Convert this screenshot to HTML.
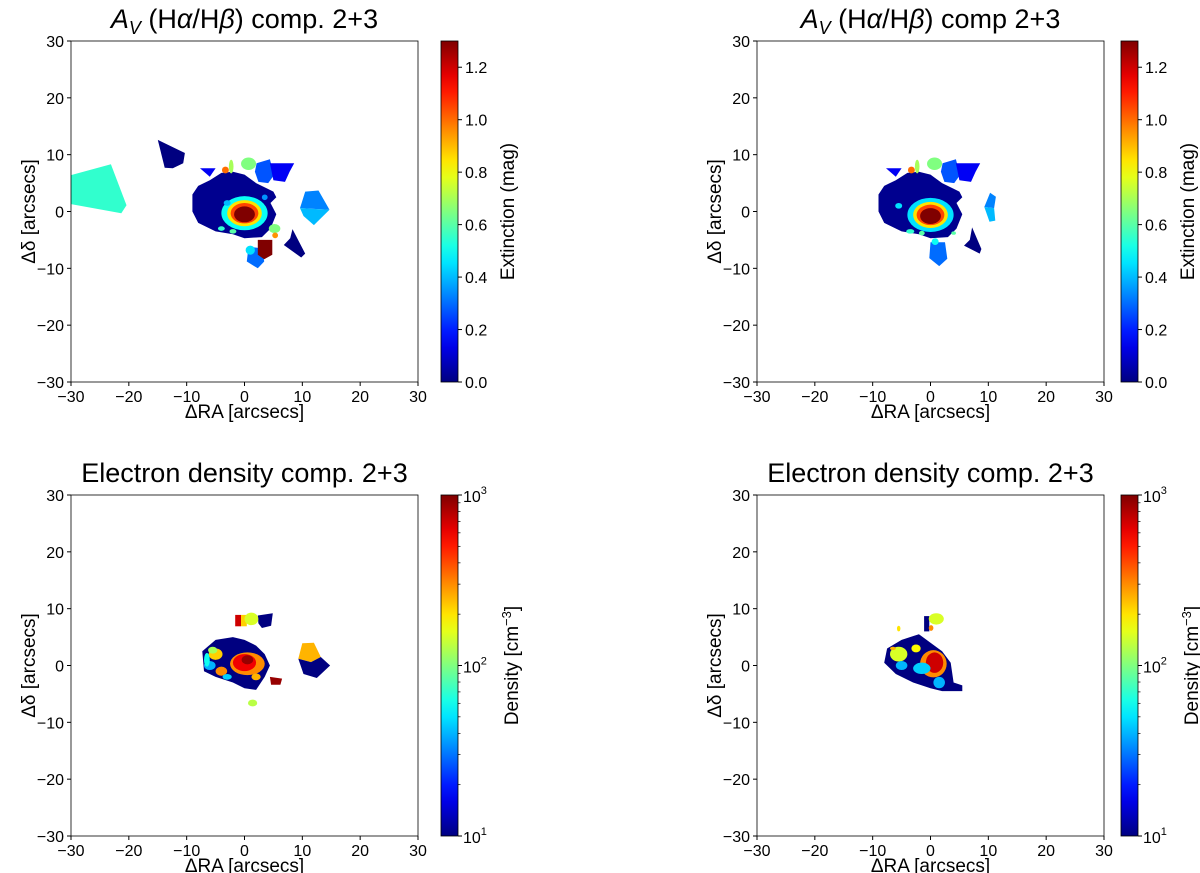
<!DOCTYPE html>
<html><head><meta charset="utf-8"><style>
html,body{margin:0;padding:0;background:#fff;}
svg{display:block;font-family:"Liberation Sans","DejaVu Sans",sans-serif;}
</style></head><body>
<svg id="fig" width="1200" height="873" viewBox="0 0 1200 873" xmlns="http://www.w3.org/2000/svg"></svg>
<script>
// ---------- data (data coordinates in arcsec; values in mag or cm^-3) ----------
const xTicks = [-30,-20,-10,0,10,20,30];
const yTicks = [-30,-20,-10,0,10,20,30];
const extTicks = [0.0,0.2,0.4,0.6,0.8,1.0,1.2];
const extRange = [0,1.3];
const denDecades = [1,2,3];

// Panel 1 polygons
const p1PolyPts = [
 [[-30,6.4],[-23.1,8.3],[-20.4,1.1],[-21.3,-0.3],[-30,1.3]],
 [[-15,12.6],[-10.3,10.3],[-10.6,8.5],[-12.4,7.6],[-13.8,7.7]],
 [[-9,3],[-8,4.5],[-6,5.5],[-4,6.8],[-2,7],[0,6.5],[2,5],[4,4],[5,3.5],[5.5,2.5],[4.5,1.5],[5.5,-0.5],[4.5,-3],[3,-4.5],[0,-4.7],[-2,-4],[-5,-3.5],[-8,-2],[-9,0]],
 [[2.1,8.5],[4.4,9.2],[5.1,6.4],[4.1,5],[2.4,5.2],[1.8,7]],
 [[4.4,8.5],[8.6,8.5],[7.8,7],[7,5.2],[5,5.5]],
 [[-7.7,7.6],[-5,7.6],[-6,6.1]],
 [[10.5,3.5],[12.8,3.7],[14.7,0.3],[9.6,0.6]],
 [[9.6,0.6],[14.7,0.3],[12,-2.4],[10.2,-0.8]],
 [[8.3,-3.1],[10.5,-7.4],[9.8,-8.1],[6.8,-5.9],[7.9,-4.7]],
 [[0.7,-6.2],[3.1,-6.5],[3.4,-8.8],[2.3,-10],[0.4,-8.8]],
 [[2.3,-5],[4.8,-5],[4.8,-7.6],[3.4,-8.4],[2.3,-7.6]]
];
const p1PolyVals = [0.55,0.0,0.02,0.27,0.15,0.15,0.33,0.4,0.0,0.3,1.3];
// Panel 1 ellipses [x,y,rx,ry]
const p1EllPos = [[0.7,8.4,1.3,1.1],[-2.3,7.9,0.4,1.2],[-3.3,7.3,0.6,0.6],[0,-0.3,4,3],[0,-0.3,3,2.3],[0,-0.3,2.4,1.8],[0,-0.5,1.8,1.4],[1,-6.8,0.8,0.8],[5.2,-3,1,0.8],[5.3,-4.2,0.5,0.5],[-4,-3,0.6,0.4],[-2,-3.5,0.6,0.4],[-3,1.5,0.6,0.5],[3.5,2.5,0.5,0.5]];
const p1EllVals = [0.65,0.7,1.0,0.5,0.85,1.05,1.3,0.45,0.65,0.95,0.55,0.6,0.4,0.35];

// Panel 2 polygons
const p2PolyPts = [
 [[-9,3],[-8,4.5],[-6,5.5],[-4,6.8],[-2,7],[0,6.5],[2,5],[4,4],[5,3.5],[5.5,2.5],[4.5,1.5],[5.5,-0.5],[4.5,-3],[3,-4.5],[0,-4.7],[-2,-4],[-5,-3.5],[-8,-2],[-9,0]],
 [[2.1,8.5],[4.4,9.2],[5.1,6.4],[4.1,5],[2.4,5.2],[1.8,7]],
 [[4.4,8.5],[8.6,8.5],[7.8,7],[7,5.2],[5,5.5]],
 [[-7.7,7.6],[-5,7.6],[-6,6.1]],
 [[10.3,3.3],[11.3,2.6],[11,0.6],[9.3,0.8]],
 [[9.3,0.8],[11,0.6],[11.2,-1.6],[10.2,-1.8]],
 [[7.2,-2.8],[8.8,-6.6],[8.5,-7.4],[5.8,-6],[6.8,-5]],
 [[0,-5.4],[2.5,-5.4],[2.9,-8.3],[1.5,-9.6],[-0.2,-8.2]]
];
const p2PolyVals = [0.02,0.27,0.15,0.15,0.33,0.4,0.0,0.3];
const p2EllPos = [[0.7,8.4,1.3,1.1],[-2.3,7.9,0.4,1.2],[-3.3,7.3,0.6,0.6],[0,-0.6,4,3],[0,-0.6,3,2.3],[0,-0.6,2.4,1.8],[0,-0.8,1.8,1.4],[0.8,-5.3,0.6,0.6],[-3.5,-3.5,0.7,0.4],[-1.5,-3.8,0.5,0.4],[4,-3.8,0.4,0.3],[-5.5,1,0.6,0.5]];
const p2EllVals = [0.65,0.7,1.0,0.45,0.85,1.05,1.3,0.5,0.55,0.6,0.6,0.45];

// Panel 3 (density)
const p3PolyPts = [
 [[-7.3,2.5],[-5,4.5],[-2,5],[0,4.5],[2,3.5],[3.5,2],[4.4,0],[3.5,-2],[2,-4.3],[0,-4],[-2,-3],[-5,-2],[-7,-1]],
 [[2.3,8.8],[4.9,9.2],[4.6,7],[3,6.6],[2.4,7.4]],
 [[-1.6,8.9],[-0.6,8.9],[-0.6,6.9],[-1.6,6.9]],
 [[-0.6,8.9],[0.4,8.9],[0.4,6.9],[-0.6,6.9]],
 [[10,3.9],[12,4],[13.2,1.5],[11.5,0.6],[9.3,1.2]],
 [[9.3,1.2],[11.5,0.6],[13.2,1.5],[14.8,0],[12.5,-2.2],[10.2,-1.5]],
 [[4.4,-2],[6.5,-2.3],[6.2,-3.4],[4.6,-3.4]]
];
const p3PolyVals = [10,10,700,220,250,10,900];
const p3EllPos = [[1.2,8.2,1.2,1.1],[-5,2,1.2,1],[-6,0,1,0.8],[-4,-1,1,0.8],[-5.5,2.7,0.8,0.6],[0.5,0.3,3,2],[0,0.5,2,1.5],[0.5,1,1,0.8],[1.4,-6.6,0.8,0.6],[-6.5,1,0.5,1.2],[-3,-2,0.8,0.5],[2,-2,0.8,0.6]];
const p3EllVals = [150,220,40,300,120,300,600,900,130,60,45,250];

// Panel 4 (density)
const p4PolyPts = [
 [[-7.5,3],[-5,4.5],[-2,5.5],[0,4],[2,2.5],[3.5,0.5],[4,-3],[5.5,-3.5],[5.5,-4.5],[2,-4.5],[0,-4],[-3,-3],[-6,-1.5],[-8,0.5]],
 [[-1.1,8.7],[-0.2,8.7],[-0.2,6],[-1.1,6]]
];
const p4PolyVals = [10,10];
const p4EllPos = [[1,8.2,1.3,1],[0.1,6.6,0.4,0.5],[-5.5,2,1.5,1.3],[-5,0,1,0.8],[0.5,0.3,2.3,2.4],[0.7,0.5,1.5,1.8],[-1.5,-0.5,1.5,1],[1.5,-3,1,1],[-2.5,3,0.8,0.7],[-5.5,6.5,0.3,0.5],[-6.5,3,0.5,0.3]];
const p4EllVals = [150,300,150,40,300,700,45,40,180,200,250];

// ---------- rendering ----------
const NS = "http://www.w3.org/2000/svg";
const svg = document.getElementById('fig');
function mk(tag, attrs, parent){const e=document.createElementNS(NS,tag);for(const k in attrs)e.setAttribute(k,attrs[k]);(parent||svg).appendChild(e);return e;}
function cl(v){return Math.max(0,Math.min(1,v));}
function jet(t){t=cl(t);const r=cl(1.5-Math.abs(4*t-3)),g=cl(1.5-Math.abs(4*t-2)),b=cl(1.5-Math.abs(4*t-1));return `rgb(${Math.round(r*255)},${Math.round(g*255)},${Math.round(b*255)})`;}
function extNorm(v){return (v-extRange[0])/(extRange[1]-extRange[0]);}
function denNorm(v){return (Math.log10(v)-1)/2;}

const panels = [
 {id:'p1',left:71,top:41,w:347,h:341,cbx:441,kind:'ext',pts:p1PolyPts,pv:p1PolyVals,ep:p1EllPos,ev:p1EllVals},
 {id:'p2',left:757,top:41,w:347,h:341,cbx:1121,kind:'ext',pts:p2PolyPts,pv:p2PolyVals,ep:p2EllPos,ev:p2EllVals},
 {id:'p3',left:71,top:495,w:347,h:341,cbx:441,kind:'den',pts:p3PolyPts,pv:p3PolyVals,ep:p3EllPos,ev:p3EllVals},
 {id:'p4',left:757,top:495,w:347,h:341,cbx:1121,kind:'den',pts:p4PolyPts,pv:p4PolyVals,ep:p4EllPos,ev:p4EllVals}
];

panels.forEach((P,pi)=>{
  const sx=x=>P.left+(x+30)/60*P.w;
  const sy=y=>P.top+(30-y)/60*P.h;
  const norm = P.kind==='ext'?extNorm:denNorm;
  const g = mk('g',{});
  
  
  const cx = P.left+P.w/2;
  const tt = mk('text',{x:cx,y:P.top-13,'text-anchor':'middle','font-size':27,fill:'#000'},g);
  
  
  if(P.kind==='ext'){
    tt.innerHTML = '<tspan font-style="italic">A</tspan><tspan font-style="italic" font-size="18" dy="6">V</tspan><tspan dy="-6"> (H</tspan><tspan font-style="italic">α</tspan><tspan>/H</tspan><tspan font-style="italic">β</tspan><tspan>) comp'+(pi===0?'.':'')+' 2+3</tspan>';
  } else {
    tt.textContent = 'Electron density comp. 2+3';
  }
  const cid='clip'+pi;
  const cp = mk('clipPath',{id:cid},g); mk('rect',{x:P.left,y:P.top,width:P.w,height:P.h},cp);
  const data = mk('g',{'clip-path':`url(#${cid})`},g);
  
  
  P.pts.forEach((poly,i)=>{
    const p = mk('polygon',{points:poly.map(q=>sx(q[0]).toFixed(1)+','+sy(q[1]).toFixed(1)).join(' '),fill:jet(norm(P.pv[i]))},data);
    
    
  });
  P.ep.forEach((e,i)=>{
    const el = mk('ellipse',{cx:sx(e[0]),cy:sy(e[1]),rx:e[2]*P.w/60,ry:e[3]*P.h/60,fill:jet(norm(P.ev[i]))},data);
    
    
  });
  const fr = mk('rect',{x:P.left,y:P.top,width:P.w,height:P.h,fill:'none',stroke:'#000','stroke-width':0.8},g);
  
  
  xTicks.forEach(t=>{
    mk('line',{x1:sx(t),x2:sx(t),y1:P.top+P.h,y2:P.top+P.h+4,stroke:'#000'},g);
    const tx = mk('text',{x:sx(t),y:P.top+P.h+20,'text-anchor':'middle','font-size':16},g);
    tx.textContent = t<0?'−'+(-t):String(t);
    
    
  });
  yTicks.forEach(t=>{
    mk('line',{x1:P.left-4,x2:P.left,y1:sy(t),y2:sy(t),stroke:'#000'},g);
    const ty = mk('text',{x:P.left-7,y:sy(t)+6,'text-anchor':'end','font-size':16},g);
    ty.textContent = t<0?'−'+(-t):String(t);
    
    
  });
  const xl = mk('text',{x:cx,y:P.top+P.h+36,'text-anchor':'middle','font-size':19},g);
  xl.textContent='ΔRA [arcsecs]';
  
  
  const yl = mk('text',{x:0,y:0,'text-anchor':'middle','font-size':19,transform:`translate(${P.left-36},${P.top+P.h/2}) rotate(-90)`},g);
  yl.textContent='Δδ [arcsecs]';
  
  
  const gradId='grad'+pi;
  const lg = mk('linearGradient',{id:gradId,x1:0,y1:1,x2:0,y2:0},g);
  for(let k=0;k<=20;k++){mk('stop',{offset:k/20,'stop-color':jet(k/20)},lg);}
  const cb = mk('rect',{x:P.cbx,y:P.top,width:17,height:P.h,fill:`url(#${gradId})`,stroke:'#000','stroke-width':0.8},g);
  
  
  const cbY = n=>P.top+P.h*(1-n);
  if(P.kind==='ext'){
    extTicks.forEach(t=>{
      const y=cbY(extNorm(t));
      mk('line',{x1:P.cbx+17,x2:P.cbx+21,y1:y,y2:y,stroke:'#000'},g);
      const l=mk('text',{x:P.cbx+24,y:y+6,'font-size':16},g);
      l.textContent=t.toFixed(1);
      
      
    });
    const cl2=mk('text',{x:0,y:0,'text-anchor':'middle','font-size':19,transform:`translate(${P.cbx+73},${P.top+P.h/2}) rotate(-90)`},g);
    cl2.textContent='Extinction (mag)';
    
    
  } else {
    denDecades.forEach(d=>{
      const y=cbY((d-1)/2);
      mk('line',{x1:P.cbx+17,x2:P.cbx+21,y1:y,y2:y,stroke:'#000'},g);
      const l=mk('text',{x:P.cbx+22,y:y+7,'font-size':16},g);
      l.innerHTML='10<tspan font-size="11" dy="-8">'+d+'</tspan>';
      
      
      if(d<3){for(let k=2;k<=9;k++){const ym=cbY((d+Math.log10(k)-1)/2);mk('line',{x1:P.cbx+17,x2:P.cbx+19.5,y1:ym,y2:ym,stroke:'#000','stroke-width':0.7},g);}}
    });
    const cl2=mk('text',{x:0,y:0,'text-anchor':'middle','font-size':19,transform:`translate(${P.cbx+77},${P.top+P.h/2}) rotate(-90)`},g);
    cl2.innerHTML='Density [cm<tspan font-size="13" dy="-7">−3</tspan><tspan dy="7">]</tspan>';
    
    
  }
});
</script>
</body></html>
